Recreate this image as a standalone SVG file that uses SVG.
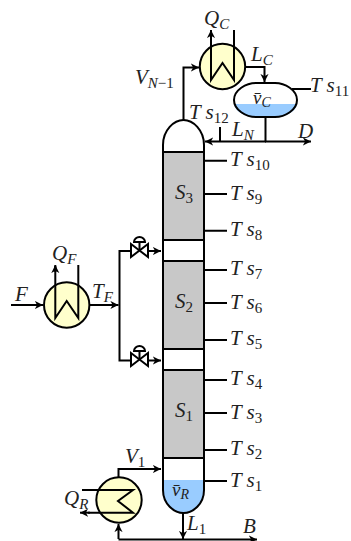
<svg xmlns="http://www.w3.org/2000/svg" width="351" height="541" viewBox="0 0 351 541">
<style>
.l{fill:none;stroke:#000;stroke-width:2}
.t{fill:none;stroke:#000;stroke-width:2}
.hx{fill:#ffc;stroke:#000;stroke-width:2}
.sec{fill:#c8c8c8;stroke:none}
.liq{fill:#99ccff;stroke:none}
text{font-family:"Liberation Serif",serif;font-style:italic;font-size:21px;fill:#222}
.s{font-size:15px}
.n{font-size:15px;font-style:normal}
.v{font-size:19px}
.vs{font-size:14px}
</style>
<defs>
<marker id="a" viewBox="0 0 10 10" refX="9" refY="5" markerWidth="9" markerHeight="9" markerUnits="userSpaceOnUse" orient="auto"><path d="M0 0.5L9 5L0 9.5L2.5 5Z" fill="#000"/></marker>
</defs>
<g id="column">
<rect class="sec" x="163" y="152" width="41" height="88"/>
<rect class="sec" x="163" y="261" width="41" height="88"/>
<rect class="sec" x="163" y="370" width="41" height="88"/>
<path class="liq" d="M163 480H204V490C204 504 193 513 183.5 513C174 513 163 504 163 490Z"/>
<path class="l" d="M163 152V145C163 130 174 120 183.5 120C193 120 204 130 204 145V490C204 504 193 513 183.5 513C174 513 163 504 163 490V145"/>
<path class="l" d="M163 152H204M163 240H204M163 261H204M163 349H204M163 370H204M163 458H204"/>
<text x="175" y="199">S<tspan class="n" dy="4">3</tspan></text>
<text x="175" y="308">S<tspan class="n" dy="4">2</tspan></text>
<text x="175" y="417">S<tspan class="n" dy="4">1</tspan></text>
<text class="v" x="172" y="496">v̄<tspan class="vs" dy="3">R</tspan></text>
</g>
<g id="condenser">
<circle class="hx" cx="222.5" cy="66.5" r="22.7"/>
<path class="t" d="M234 30V80L222.5 63L211 80V31"/>
<path d="M211 37V30" class="t" marker-end="url(#a)"/>
<text x="204" y="25">Q<tspan class="s" dy="4">C</tspan></text>
</g>
<g id="drum">
<path class="liq" d="M234 104H297C296 112 285 117 275 117H256C246 117 235 112 234 104Z"/>
<path class="l" d="M234 100C234 90 246 83 256 83H275C285 83 297 90 297 100C297 110 285 117 275 117H256C246 117 234 110 234 100Z"/>
<text class="v" x="253" y="104">v̄<tspan class="vs" dy="3">C</tspan></text>
</g>
<g id="feed-exchanger">
<circle class="hx" cx="66.7" cy="305" r="22.7"/>
<path class="t" d="M78.3 265V318L66.7 301L55.3 318V266"/>
<path class="t" d="M55.3 272V265" marker-end="url(#a)"/>
<text x="52" y="260">Q<tspan class="s" dy="4">F</tspan></text>
</g>
<g id="reboiler">
<circle class="hx" cx="119" cy="500" r="22.7"/>
<path class="t" d="M82 490H133L118 501L133 512.7H88"/>
<path class="t" d="M90 512.7H80" marker-end="url(#a)"/>
<text x="64" y="505">Q<tspan class="s" dy="4">R</tspan></text>
</g>
<g id="valve-top">
<path class="t" d="M131 244L148 257V244L131 257Z"/>
<path class="t" d="M139.5 251V242M134 242A5.5 5 0 0 1 145 242Z"/>
</g>
<g id="valve-bottom">
<path class="t" d="M131 353L148 366V353L131 366Z"/>
<path class="t" d="M139.5 360V351M134 351A5.5 5 0 0 1 145 351Z"/>
</g>
<g id="connectors">
<path class="l" d="M11 305H43" marker-end="url(#a)"/>
<path class="l" d="M89.5 305H118.5" marker-end="url(#a)"/>
<path class="l" d="M131 251H119.5V360.5H131"/>
<path class="l" d="M148 251H161" marker-end="url(#a)"/>
<path class="l" d="M148 360.5H161" marker-end="url(#a)"/>
<path class="l" d="M183.5 120V67.5H199" marker-end="url(#a)"/>
<path class="l" d="M245 67H264.5V82" marker-end="url(#a)"/>
<path class="l" d="M265.5 117V141.5"/>
<path class="l" d="M266 141.5H205" marker-end="url(#a)"/>
<path class="l" d="M220 141.5V127"/>
<path class="l" d="M265 141.5H311" marker-end="url(#a)"/>
<path class="l" d="M292 89H311"/>
<path class="l" d="M118.5 477V469H161" marker-end="url(#a)"/>
<path class="l" d="M183 513V539" marker-end="url(#a)"/>
<path class="l" d="M118.5 539.5H257" marker-end="url(#a)"/>
<path class="l" d="M118.5 539V524" marker-end="url(#a)"/>
<path class="l" d="M205 160.7H227M205 194H227M205 230.7H227M205 270H227M205 303H227M205 340H227M205 380H227M205 413H227M205 450H227M205 481H227"/>
</g>
<g id="labels">
<text x="15" y="301">F</text>
<text x="92" y="298">T<tspan class="s" dy="4">F</tspan></text>
<text x="135" y="84">V<tspan class="s" dy="4">N<tspan font-style="normal">−1</tspan></tspan></text>
<text x="251" y="61">L<tspan class="s" dy="4">C</tspan></text>
<text x="310" y="92">T s<tspan class="n" dy="4">11</tspan></text>
<text x="189" y="119">T s<tspan class="n" dy="4">12</tspan></text>
<text x="232" y="136">L<tspan class="s" dy="4">N</tspan></text>
<text x="298" y="138">D</text>
<text x="125" y="463">V<tspan class="n" dy="4">1</tspan></text>
<text x="187" y="530">L<tspan class="n" dy="4">1</tspan></text>
<text x="243" y="533">B</text>
<text x="230" y="166">T s<tspan class="n" dy="4">10</tspan></text>
<text x="230" y="200">T s<tspan class="n" dy="4">9</tspan></text>
<text x="230" y="236">T s<tspan class="n" dy="4">8</tspan></text>
<text x="230" y="275">T s<tspan class="n" dy="4">7</tspan></text>
<text x="230" y="309">T s<tspan class="n" dy="4">6</tspan></text>
<text x="230" y="345">T s<tspan class="n" dy="4">5</tspan></text>
<text x="230" y="385">T s<tspan class="n" dy="4">4</tspan></text>
<text x="230" y="419">T s<tspan class="n" dy="4">3</tspan></text>
<text x="230" y="455">T s<tspan class="n" dy="4">2</tspan></text>
<text x="230" y="487">T s<tspan class="n" dy="4">1</tspan></text>
</g>
</svg>
